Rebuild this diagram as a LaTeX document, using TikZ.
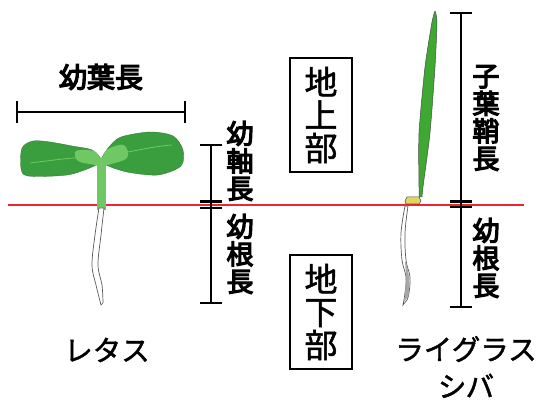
\documentclass[tikz,border=0pt]{standalone}
\usepackage{fontspec}
\setmainfont{Noto Sans CJK JP}[FakeBold=1.5]
\newfontfamily\jpbold[FakeBold=4.5]{Noto Sans CJK JP}
\begin{document}
\definecolor{leafgreen}{RGB}{58,158,62}
\definecolor{leaflight}{RGB}{112,200,100}
\definecolor{bladegreen}{RGB}{62,168,50}
\definecolor{seedyellow}{RGB}{226,214,96}
\definecolor{soilline}{RGB}{238,36,48}
\begin{tikzpicture}[x=1pt,y=-1pt,
  ruler/.style={line width=2.4pt,black},
  vlabel/.style={font=\jpbold\fontsize{27}{27.5}\selectfont,align=center,inner sep=0pt},
  partbox/.style={draw,line width=1.6pt,font=\fontsize{33}{33}\selectfont,align=center,
    minimum width=62pt,minimum height=114pt,inner sep=0pt},
  species/.style={font=\fontsize{28.5}{37}\selectfont,align=center,inner sep=0pt},
  rootline/.style={draw=black!65,line width=0.7pt,fill=white}]
\useasboundingbox (0,0) rectangle (542,401);

% ground surface
\coordinate (g1) at (8,205);
\coordinate (g2) at (524,205);
\draw[soilline,line width=1.8pt] (g1) -- (g2);

% ---------- lettuce seedling ----------
\fill[leafgreen,draw=leafgreen!70!black,line width=0.3pt] plot[smooth cycle,tension=0.5] coordinates
  {(33,141) (22,148) (21,168) (28,176) (67,175) (92,167) (101,160) (92,150) (72,146) (50,142)};
\fill[leafgreen,draw=leafgreen!70!black,line width=0.3pt] plot[smooth cycle,tension=0.5] coordinates
  {(101,160) (109,147) (121,137) (150,132) (173,136) (183,150) (181,166) (158,175) (127,172) (106,165)};
\fill[leaflight] plot[smooth cycle,tension=0.6] coordinates
  {(76,151) (94,151) (101,158) (108,149) (124,145) (127,158) (108,165) (102,168) (95,165) (78,161)};
\draw[leaflight,line width=0.8pt] (30,163) .. controls (55,160) and (80,156) .. (98,158);
\draw[leaflight,line width=0.8pt] (106,156) .. controls (130,152) and (155,146) .. (172,145);
\fill[leaflight] (97,160) rectangle (106,210);
\path[rootline] plot[smooth,tension=0.6] coordinates {(99,208) (95,235) (92,265) (96,285) (101,305)}
  -- plot[smooth,tension=0.6] coordinates {(103,303) (102,285) (98,265) (101,235) (104,208)} -- cycle;

% ---------- ryegrass seedling ----------
\fill[bladegreen,draw=black!70,line width=0.5pt] plot[smooth,tension=0.4] coordinates
  {(435,11) (437,22) (435,67) (430,133) (423,187) (422,197)}
  -- (419,197) -- plot[smooth,tension=0.4] coordinates {(419,187) (419,133) (425,67) (432,22) (435,11)};
\fill[seedyellow,draw=black!70,line width=0.5pt]
  (405,201) -- (407,197) -- (419,197) -- (421,201) -- (419,204) -- (406,204) -- cycle;
\path[rootline] plot[smooth,tension=0.6] coordinates {(405,206) (401,233) (402,260) (406,277) (405,293) (403,305)}
  -- plot[smooth,tension=0.6] coordinates {(407,300) (409,293) (410,277) (406,260) (405,233) (408,206)} -- cycle;
\fill[black!35] plot[smooth,tension=0.6] coordinates {(405,262) (406,277) (405,293) (404,302)}
  -- plot[smooth,tension=0.6] coordinates {(407,298) (409,293) (409,277) (406,262)} -- cycle;

% ---------- cotyledon width ruler ----------
\coordinate (wl) at (17,112);
\coordinate (wr) at (185,112);
\draw[ruler] (wl) -- (wr);
\draw[ruler] ([yshift=-11pt]wl) -- ([yshift=11pt]wl);
\draw[ruler] ([yshift=-11pt]wr) -- ([yshift=11pt]wr);
\node[font=\jpbold\fontsize{28}{28}\selectfont,inner sep=0pt] (leafw) at (101,77) {幼葉長};

% ---------- lettuce hypocotyl / radicle ruler ----------
\coordinate (lt) at (211,145);
\coordinate (lm1) at (211,201.5);
\coordinate (lm2) at (211,208);
\coordinate (lb) at (211,303);
\draw[ruler] (lt) -- (lb);
\foreach \p in {lt,lm1,lm2,lb}
  \draw[ruler] ([xshift=-11pt]\p) -- ([xshift=11pt]\p);
\node[vlabel] (hypo) at (240,161) {幼\\軸\\長};
\node[vlabel] (radl) at (240,254) {幼\\根\\長};

% ---------- grass coleoptile / radicle ruler ----------
\coordinate (gt) at (461,13);
\coordinate (gm1) at (461,201.5);
\coordinate (gm2) at (461,207);
\coordinate (gb) at (461,307);
\draw[ruler] (gt) -- (gb);
\foreach \p in {gt,gm1,gm2,gb}
  \draw[ruler] ([xshift=-11pt]\p) -- ([xshift=11pt]\p);
\node[vlabel] (coleo) at (486,118) {子\\葉\\鞘\\長};
\node[vlabel] (radg) at (486,258) {幼\\根\\長};

% ---------- above / below ground boxes ----------
\node[partbox] (above) at (321,115) {地\\上\\部};
\node[partbox] (below) at (321,312) {地\\下\\部};

% ---------- species names ----------
\node[species] (lettuce) at (107,350) {レタス};
\node[species] (grass) at (466,367) {ライグラス\\シバ};
\end{tikzpicture}
\end{document}
